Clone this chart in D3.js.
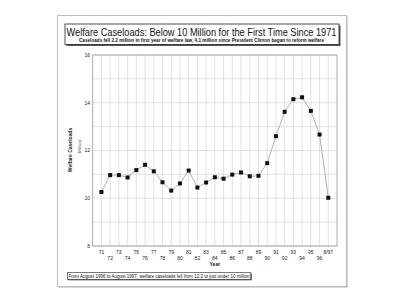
<!DOCTYPE html>
<html>
<head>
<meta charset="utf-8">
<script src="https://cdn.jsdelivr.net/npm/d3@7.9.0/dist/d3.min.js"></script>
<style>
  body { margin: 0; background: #fff; }
  svg { display: block; font-family: "Liberation Sans", Arial, sans-serif; }
</style>
</head>
<body>
<svg width="400" height="306"></svg>
<script>
// data (millions of cases)
const years = ['71','72','73','74','75','76','77','78','79','80','81','82','83','84','85','86','87','88','89','90','91','92','93','94','95','96','8/97'];
const caseloads = [10.26, 10.97, 10.97, 10.87, 11.18, 11.40, 11.13, 10.67, 10.32, 10.62, 11.16, 10.45, 10.66, 10.88, 10.82, 10.99, 11.08, 10.92, 10.94, 11.47, 12.60, 13.62, 14.15, 14.23, 13.66, 12.67, 10.02];
const yTicks = [8, 10, 12, 14, 16];

const titleText = 'Welfare Caseloads: Below 10 Million for the First Time Since 1971';
const subText = 'Caseloads fell 2.2 million in first year of welfare law, 4.1 million since President Clinton began to reform welfare';
const noteText = 'From August 1996 to August 1997, welfare caseloads fell from 12.2 to just under 10 million';

const svg = d3.select('svg');
const plotL = 92.7, plotR = 337, plotT = 55, plotB = 246;

const x = d3.scalePoint().domain(years).range([plotL, plotR]).padding(1);
const y = d3.scaleLinear().domain([8, 16]).range([plotB, plotT]);

// outer page frame with a soft shadow
svg.append('rect').attr('x', 59).attr('y', 17).attr('width', 289).attr('height', 271).attr('fill', '#d8d8d8');
svg.append('rect').attr('x', 57.5).attr('y', 15.5).attr('width', 289).attr('height', 271)
  .attr('fill', '#fff').attr('stroke', '#bdbdbd').attr('stroke-width', 1);

// gridlines
let grid = svg.append('g').attr('stroke', '#d4d4d4').attr('stroke-width', 0.7);
d3.range(8, 17).forEach(v => {
  grid.append('line').attr('x1', plotL).attr('x2', plotR).attr('y1', y(v)).attr('y2', y(v));
});
years.forEach(yr => {
  grid.append('line').attr('x1', x(yr)).attr('x2', x(yr)).attr('y1', plotT).attr('y2', plotB);
});
svg.append('rect').attr('x', plotL).attr('y', plotT).attr('width', plotR - plotL).attr('height', plotB - plotT)
  .attr('fill', 'none').attr('stroke', '#9a9a9a').attr('stroke-width', 0.8);

// y tick labels
svg.append('g').selectAll('text').data(yTicks).join('text')
  .attr('x', 90).attr('y', d => y(d) + 1.8)
  .attr('text-anchor', 'end').attr('font-size', 5).attr('fill', '#222')
  .text(d => d);

// x tick labels, staggered in two rows
svg.append('g').selectAll('text').data(years).join('text')
  .attr('x', d => x(d)).attr('y', (d, i) => i % 2 === 0 ? 254 : 260)
  .attr('text-anchor', 'middle').attr('font-size', 5).attr('fill', '#222')
  .text(d => d);

svg.append('text').attr('x', (plotL + plotR) / 2).attr('y', 265.5)
  .attr('text-anchor', 'middle').attr('font-size', 5).attr('font-weight', 'bold').attr('fill', '#222')
  .text('Year');

// y axis title
svg.append('text').attr('transform', 'translate(71.5,150) rotate(-90)')
  .attr('text-anchor', 'middle').attr('font-size', 5).attr('font-weight', 'bold').attr('fill', '#222')
  .text('Welfare Caseloads');
svg.append('text').attr('transform', 'translate(80.5,146) rotate(-90)')
  .attr('text-anchor', 'middle').attr('font-size', 4).attr('fill', '#333')
  .text('Millions');

// line + square markers
const line = d3.line().x((d, i) => x(years[i])).y(d => y(d));
svg.append('path').datum(caseloads).attr('d', line)
  .attr('fill', 'none').attr('stroke', '#9e9e9e').attr('stroke-width', 0.8);
svg.append('g').selectAll('rect').data(caseloads).join('rect')
  .attr('x', (d, i) => x(years[i]) - 2).attr('y', d => y(d) - 2)
  .attr('width', 4).attr('height', 4).attr('fill', '#111');

// title box
svg.append('rect').attr('x', 66.5).attr('y', 25.5).attr('width', 274).attr('height', 20.5).attr('fill', '#555');
svg.append('rect').attr('x', 65).attr('y', 24).attr('width', 274).attr('height', 20.5)
  .attr('fill', '#fff').attr('stroke', '#222').attr('stroke-width', 0.8);
svg.append('text').attr('x', 66.5).attr('y', 35.5)
  .attr('font-size', 10.5).attr('fill', '#111')
  .attr('textLength', 270).attr('lengthAdjust', 'spacingAndGlyphs')
  .text(titleText);
svg.append('text').attr('x', 79).attr('y', 42)
  .attr('font-size', 4.8).attr('font-weight', 'bold').attr('fill', '#111')
  .attr('textLength', 245).attr('lengthAdjust', 'spacingAndGlyphs')
  .text(subText);

// bottom note box
svg.append('rect').attr('x', 68.2).attr('y', 273.5).attr('width', 183.5).attr('height', 6.8).attr('fill', '#444');
svg.append('rect').attr('x', 67.3).attr('y', 272.7).attr('width', 183.5).attr('height', 6.8)
  .attr('fill', '#fff').attr('stroke', '#222').attr('stroke-width', 0.6);
svg.append('text').attr('x', 68.5).attr('y', 278)
  .attr('font-size', 4.8).attr('fill', '#111')
  .attr('textLength', 181).attr('lengthAdjust', 'spacingAndGlyphs')
  .text(noteText);
</script>
</body>
</html>
